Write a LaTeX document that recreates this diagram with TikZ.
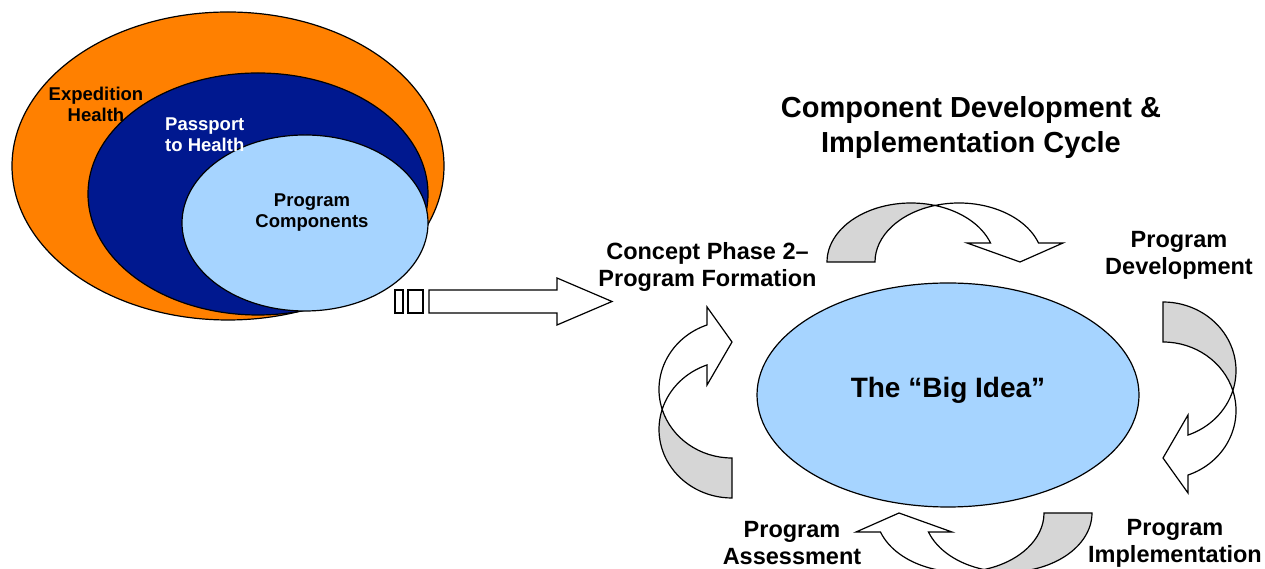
\documentclass[tikz,border=0pt]{standalone}
\usepackage{fontspec}
\setmainfont{Liberation Sans}
\usetikzlibrary{positioning, shapes.geometric}

\definecolor{expedorange}{RGB}{255,128,0}
\definecolor{passportblue}{RGB}{0,24,143}
\definecolor{ideablue}{RGB}{166,212,255}
\definecolor{bandgray}{RGB}{214,214,214}

\tikzset{
  ring/.style={ellipse, draw, line width=1.2pt, inner sep=0pt},
  ringtext/.style={inner sep=0pt, font=\bfseries\fontsize{18.5}{21}\selectfont},
  stagetext/.style={inner sep=0pt, font=\bfseries\fontsize{23.5}{27}\selectfont},
  arrowback/.style={fill=bandgray, draw=black, line width=1.2pt},
  arrowfront/.style={fill=white, draw=black, line width=1.2pt},
}

% curved band arrow: position, rotation, x radius, y radius, band width,
% end angle, head corners (near, far) and tip along the base line
\newcommand{\cyclearrow}[9]{%
  \begin{scope}[shift={#1}, rotate=#2]
    \pgfmathsetmacro{\crossang}{acos(#5/(2*#3))}
    \pgfmathsetmacro{\endx}{#3*(1+cos(#6))}
    \pgfmathsetmacro{\endy}{#4*sin(#6)}
    % shaded back of the band
    \filldraw[arrowback] (0,0)
      arc[start angle=180, end angle=\crossang, x radius=#3, y radius=#4]
      arc[start angle=180-\crossang, end angle=180, x radius=#3, y radius=#4]
      -- cycle;
    % front of the band with the head
    \filldraw[arrowfront] (\endx,\endy)
      arc[start angle=#6, end angle=\crossang, x radius=#3, y radius=#4]
      arc[start angle=180-\crossang, end angle=#6, x radius=#3, y radius=#4]
      -- (#8,\endy) -- (#9,0) -- (#7,\endy) -- cycle;
  \end{scope}}

\begin{document}
\begin{tikzpicture}[x=1pt, y=1pt, every node/.style={align=center}]
\useasboundingbox (0,0) rectangle (1265,569);

			% Nested rings
			\node[ring, fill=expedorange, minimum width=432pt, minimum height=308pt] (expedition) at (228,403) {};
			\node[ring, fill=passportblue, minimum width=340pt, minimum height=242pt] (passport) at (258,375) {};
			\node[ring, fill=ideablue, minimum width=246pt, minimum height=176pt] (components) at (305,346) {};
			% Ring labels
			\node[ringtext] (expedition-text) at (96,465) {Expedition\\Health};
			\node[ringtext, anchor=west, align=left, text=white] (passport-text) at (165,434) {Passport\\to Health};
			\node[ringtext] (components-text) at (312,356) {Program\\Components};

			% Block arrow with two stripes
			\draw[line width=1.2pt, fill=white] (395,256) rectangle (403,279);
			\draw[line width=1.2pt, fill=white] (408,256) rectangle (423,279);
			\draw[line width=1.2pt, fill=white] (429,256) -- (557,256) -- (557,244) -- (612,267.5)
				-- (557,291) -- (557,279) -- (429,279) -- cycle;

			% Title
			\node[font=\bfseries\fontsize{29}{35}\selectfont, inner sep=0pt] (title) at (971,441.5) {Component Development \&\\Implementation Cycle};

			% Centre of the cycle
			\node[ellipse, draw, line width=1.2pt, fill=ideablue, minimum width=382pt, minimum height=224pt, inner sep=0pt] (bigidea) at (948,174) {};
			\node[font=\bfseries\fontsize{28}{32}\selectfont, inner sep=0pt] (bigidea-text) at ([yshift=5pt]bigidea.center) {The “Big Idea”};

			% Cycle arrows
			\cyclearrow{(827,307)}{0}{84}{59}{48}{18.8}{140}{236}{193}
			\cyclearrow{(1163,267)}{-90}{68.6}{73}{40}{20}{113}{191}{156}
			\cyclearrow{(1092,56)}{180}{84}{59}{48}{18.8}{140}{236}{193}
			\cyclearrow{(732,71)}{90}{68.6}{73}{40}{20}{113}{191}{156}

			% Cycle stages
			\node[stagetext] (formation) at (707.5,302) {Concept Phase 2–\\Program Formation};
			\node[stagetext] (development) at (1179,313.5) {Program\\Development};
			\node[stagetext] (implementation) at (1175,26) {Program\\Implementation};
			\node[stagetext] (assessment) at (792,26) {Program\\Assessment};
\end{tikzpicture}
\end{document}
